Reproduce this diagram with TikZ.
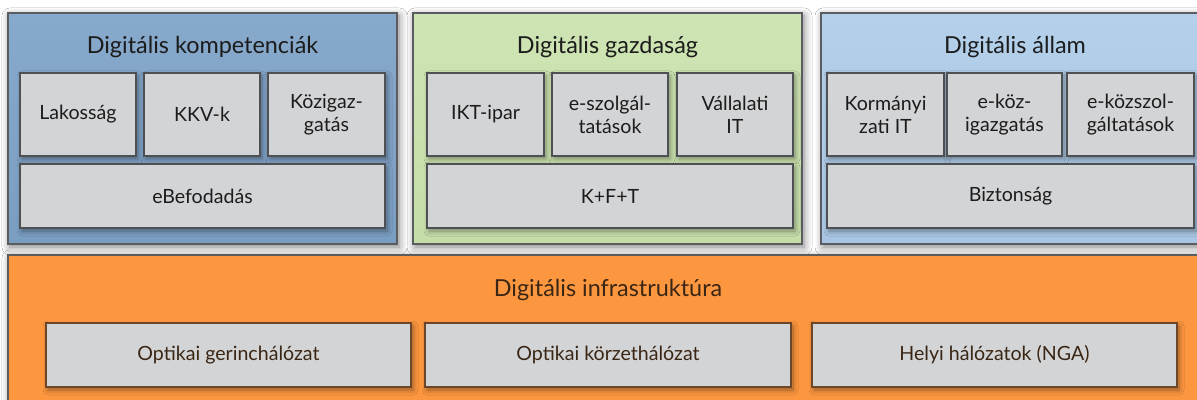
\documentclass[tikz,border=0pt]{standalone}
\usepackage{fontspec}
\setmainfont{Lato}
\usetikzlibrary{shadows.blur}

\definecolor{kompblue}{HTML}{7A9DC2}
\definecolor{kompbluelight}{HTML}{87A9CB}
\definecolor{gazdgreen}{HTML}{C5DDA8}
\definecolor{gazdgreenlight}{HTML}{CFE4B4}
\definecolor{allamblue}{HTML}{A8C6E3}
\definecolor{allambluelight}{HTML}{B4D0EA}
\definecolor{infraorange}{HTML}{FC963F}
\definecolor{panelline}{HTML}{5A5C60}
\definecolor{itemgrey}{HTML}{D3D4D6}
\definecolor{itemline}{HTML}{4E5054}
\definecolor{infraline}{HTML}{6B4629}
\definecolor{titletext}{HTML}{1C1C1C}
\definecolor{infratext}{HTML}{3A2615}

\tikzset{
  panel/.style={draw=panelline, line width=0.8pt, blur shadow={shadow blur steps=6, shadow xshift=1pt, shadow yshift=-1.5pt, shadow blur radius=4pt, shadow opacity=50}},
  paneltitle/.style={font=\fontsize{11.7}{13}\selectfont, text=titletext},
  item/.style={draw=itemline, line width=0.7pt, fill=itemgrey, align=center, text=titletext, font=\fontsize{9.8}{11.5}\selectfont, blur shadow={shadow blur steps=5, shadow xshift=1pt, shadow yshift=-1.5pt, shadow blur radius=2.5pt, shadow opacity=40}},
  infraitem/.style={item, draw=infraline, text=infratext},
}

\begin{document}
\begin{tikzpicture}[x=0.5pt, y=-0.5pt]
\clip (0,0) rectangle (1197,400);
\fill[white] (0,0) rectangle (1197,400);

\node[panel, top color=kompbluelight, bottom color=kompblue, minimum width=194.5pt, minimum height=115.5pt] (kompetencia) at (202.5,128.5) {};
\node[panel, top color=gazdgreenlight, bottom color=gazdgreen, minimum width=194.5pt, minimum height=115.5pt] (gazdasag) at (607.5,128.5) {};
\node[panel, top color=allambluelight, bottom color=allamblue, minimum width=194pt, minimum height=115.5pt] (allam) at (1015,128.5) {};
\node[panel, fill=infraorange, minimum width=600.5pt, minimum height=82.5pt] (infra) at (608.5,337.5) {};

\node[paneltitle] (kompetencia-title) at (202.5,47) {Digitális kompetenciák};
\node[paneltitle] (gazdasag-title) at (607.5,47) {Digitális gazdaság};
\node[paneltitle] (allam-title) at (1015,47) {Digitális állam};
\node[paneltitle, text=infratext] (infra-title) at (608,290) {Digitális infrastruktúra};

\node[item, minimum width=58pt, minimum height=41.5pt] (lakossag) at (78,114.5) {Lakosság};
\node[item, minimum width=58pt, minimum height=41.5pt] (kkv) at (202,114.5) {KKV-k};
\node[item, minimum width=58.5pt, minimum height=41.5pt] (kozig) at (326.5,114.5) {Közigaz-\\gatás};
\node[item, minimum width=182.5pt, minimum height=32pt] (ebef) at (202.5,196) {eBefodadás};

\node[item, minimum width=58.5pt, minimum height=41.5pt] (ikt) at (485.5,114.5) {IKT-ipar};
\node[item, minimum width=58pt, minimum height=41.5pt] (eszolg) at (610,114.5) {e-szolgál-\\tatások};
\node[item, minimum width=58pt, minimum height=41.5pt] (vallalati) at (735,114.5) {Vállalati\\IT};
\node[item, minimum width=183pt, minimum height=32pt] (kft) at (610,196) {K+F+T};

\node[item, minimum width=58.5pt, minimum height=41.5pt] (kormanyzati) at (885.5,114.5) {Kormányi\\zati IT};
\node[item, minimum width=57.5pt, minimum height=41.5pt] (ekoz) at (1004.5,114.5) {e-köz-\\igazgatás};
\node[item, minimum width=63.5pt, minimum height=41.5pt] (ekozszolg) at (1130.5,114.5) {e-közszol-\\gáltatások};
\node[item, minimum width=183.5pt, minimum height=32pt] (biztonsag) at (1010.5,196) {Biztonság};

\node[infraitem, minimum width=182.5pt, minimum height=32pt] (gerinc) at (228.5,355) {Optikai gerinchálózat};
\node[infraitem, minimum width=183pt, minimum height=32pt] (korzet) at (608,355) {Optikai körzethálózat};
\node[infraitem, minimum width=182.5pt, minimum height=32pt] (helyi) at (994.5,355) {Helyi hálózatok (NGA)};
\end{tikzpicture}
\end{document}
